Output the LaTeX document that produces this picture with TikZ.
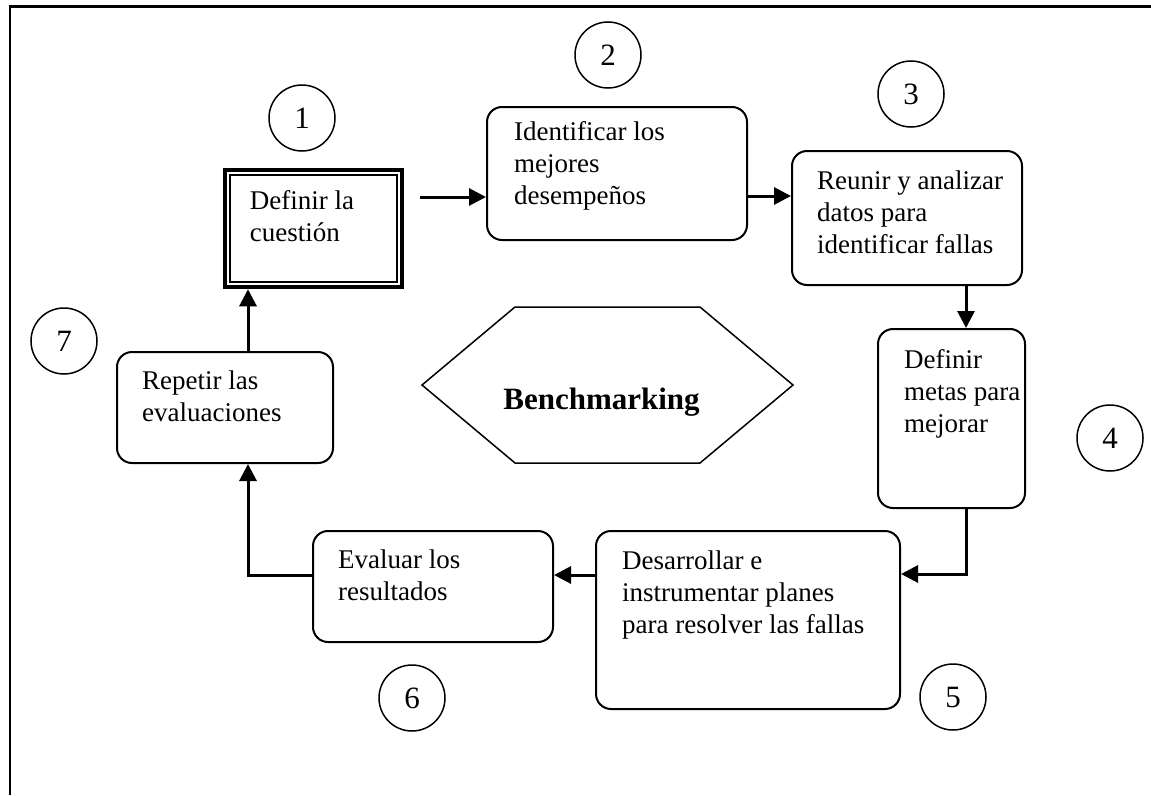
\documentclass[tikz,border=0pt]{standalone}
\usepackage{fontspec}
\setmainfont{Liberation Serif}
\usetikzlibrary{arrows.meta,calc}
\begin{document}
\begin{tikzpicture}[x=1pt,y=-1pt,
  txt/.style={font=\fontsize{27}{32}\selectfont},
  stepbox/.style={draw,line width=2pt,rounded corners=15pt,inner sep=0pt},
  lbl/.style={txt,inner sep=0pt,anchor=base west},
  num/.style={font=\fontsize{31}{36}\selectfont,draw,circle,line width=1.5pt,minimum size=66pt,inner sep=0pt},
  flow/.style={line width=3pt,-{Triangle[length=17pt,width=17pt]}}]
\useasboundingbox (0,0) rectangle (1151,795);
% page frame (open to the right and bottom)
\draw[line width=2.4pt] (10,795) -- (10,6.5) -- (1151,6.5);

% step boxes
\node[draw,line width=4.5pt,inner sep=0pt,minimum width=177pt,minimum height=117pt] (b1) at (313.5,228.5) {};
\draw[line width=2.2pt] ($(b1.north west)+(7.5,7.5)$) rectangle ($(b1.south east)+(-7.5,-7.5)$);
\node[stepbox,minimum width=260pt,minimum height=133pt] (b2) at (617,173.5) {};
\node[stepbox,minimum width=230pt,minimum height=134pt] (b3) at (907,218) {};
\node[stepbox,minimum width=147pt,minimum height=179pt] (b4) at (951.5,418.5) {};
\node[stepbox,minimum width=304pt,minimum height=178pt] (b5) at (748,620) {};
\node[stepbox,minimum width=240pt,minimum height=111pt] (b6) at (433,586.5) {};
\node[stepbox,minimum width=216pt,minimum height=111pt] (b7) at (225,407.5) {};

% box texts
\node[lbl] (t1) at ($(b1.north west)+(27,42)$) {\parbox[t]{150pt}{\raggedright Definir la\\cuestión}};
\node[lbl] (t2) at ($(b2.north west)+(28,34)$) {\parbox[t]{230pt}{\raggedright Identificar los\\mejores\\desempeños}};
\node[lbl] (t3) at ($(b3.north west)+(26,39)$) {\parbox[t]{210pt}{\raggedright Reunir y analizar\\datos para\\identificar fallas}};
\node[lbl] (t4) at ($(b4.north west)+(27,40)$) {\parbox[t]{130pt}{\raggedright Definir\\metas para\\mejorar}};
\node[lbl] (t5) at ($(b5.north west)+(27,39)$) {\parbox[t]{280pt}{\raggedright Desarrollar e\\instrumentar planes\\para resolver las fallas}};
\node[lbl] (t6) at ($(b6.north west)+(26,38)$) {\parbox[t]{210pt}{\raggedright Evaluar los\\resultados}};
\node[lbl] (t7) at ($(b7.north west)+(26,38)$) {\parbox[t]{190pt}{\raggedright Repetir las\\evaluaciones}};

% step numbers
\node[num] (n1) at (302,118) {1};
\node[num] (n2) at (608,55) {2};
\node[num] (n3) at (911,94) {3};
\node[num] (n4) at (1110,438) {4};
\node[num] (n5) at (953,697) {5};
\node[num] (n6) at (412,698) {6};
\node[num] (n7) at (64,341) {7};

% central hexagon
\coordinate (hl) at (422,385);
\coordinate (hr) at (793,385);
\draw[line width=1.5pt] (hl) -- (515,307) -- (700,307) -- (hr) -- (700,463) -- (515,463) -- cycle;
\node[font=\fontsize{31}{36}\selectfont\bfseries,inner sep=0pt,anchor=base] (bm) at (601.5,409) {Benchmarking};

% connectors
\coordinate (s12) at (420,197);
\draw[flow] (s12) -- (s12 -| b2.west);
\coordinate (y23) at (0,196);
\draw[flow] (b2.east |- y23) -- (b3.west |- y23);
\coordinate (x34) at (966,0);
\draw[flow] (b3.south -| x34) -- (b4.north -| x34);
\coordinate (c45) at (966,574);
\draw[flow] (b4.south -| c45) -- (c45) -- (c45 -| b5.east);
\coordinate (y56) at (0,575);
\draw[flow] (b5.west |- y56) -- (b6.east |- y56);
\coordinate (c67) at (248,575);
\draw[flow] (b6.west |- c67) -- (c67) -- (c67 |- b7.south);
\draw[flow] (b7.north -| c67) -- (b1.south -| c67);
\end{tikzpicture}
\end{document}
